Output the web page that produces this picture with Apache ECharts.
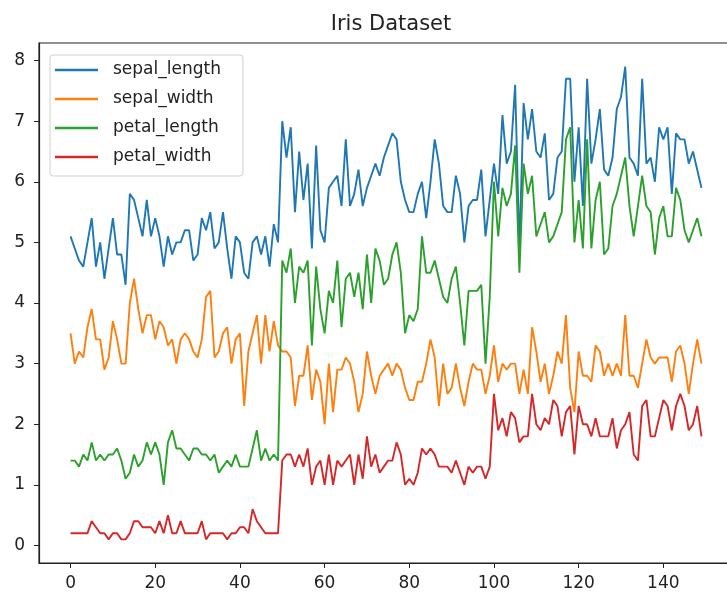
<!DOCTYPE html>
<html>
<head>
<meta charset="utf-8">
<script src="https://cdn.jsdelivr.net/npm/echarts@6/dist/echarts.min.js"></script>
<style>
html,body{margin:0;padding:0;background:#fff;}
#chart{width:727px;height:599px;}
</style>
</head>
<body>
<div id="chart"></div>
<script>
const seriesNames = ['sepal_length', 'sepal_width', 'petal_length', 'petal_width'];
const sepalLength = [5.1,4.9,4.7,4.6,5.0,5.4,4.6,5.0,4.4,4.9,5.4,4.8,4.8,4.3,5.8,5.7,5.4,5.1,5.7,5.1,5.4,5.1,4.6,5.1,4.8,5.0,5.0,5.2,5.2,4.7,4.8,5.4,5.2,5.5,4.9,5.0,5.5,4.9,4.4,5.1,5.0,4.5,4.4,5.0,5.1,4.8,5.1,4.6,5.3,5.0,
7.0,6.4,6.9,5.5,6.5,5.7,6.3,4.9,6.6,5.2,5.0,5.9,6.0,6.1,5.6,6.7,5.6,5.8,6.2,5.6,5.9,6.1,6.3,6.1,6.4,6.6,6.8,6.7,6.0,5.7,5.5,5.5,5.8,6.0,5.4,6.0,6.7,6.3,5.6,5.5,5.5,6.1,5.8,5.0,5.6,5.7,5.7,6.2,5.1,5.7,
6.3,5.8,7.1,6.3,6.5,7.6,4.9,7.3,6.7,7.2,6.5,6.4,6.8,5.7,5.8,6.4,6.5,7.7,7.7,6.0,6.9,5.6,7.7,6.3,6.7,7.2,6.2,6.1,6.4,7.2,7.4,7.9,6.4,6.3,6.1,7.7,6.3,6.4,6.0,6.9,6.7,6.9,5.8,6.8,6.7,6.7,6.3,6.5,6.2,5.9];
const sepalWidth = [3.5,3.0,3.2,3.1,3.6,3.9,3.4,3.4,2.9,3.1,3.7,3.4,3.0,3.0,4.0,4.4,3.9,3.5,3.8,3.8,3.4,3.7,3.6,3.3,3.4,3.0,3.4,3.5,3.4,3.2,3.1,3.4,4.1,4.2,3.1,3.2,3.5,3.6,3.0,3.4,3.5,2.3,3.2,3.5,3.8,3.0,3.8,3.2,3.7,3.3,
3.2,3.2,3.1,2.3,2.8,2.8,3.3,2.4,2.9,2.7,2.0,3.0,2.2,2.9,2.9,3.1,3.0,2.7,2.2,2.5,3.2,2.8,2.5,2.8,2.9,3.0,2.8,3.0,2.9,2.6,2.4,2.4,2.7,2.7,3.0,3.4,3.1,2.3,3.0,2.5,2.6,3.0,2.6,2.3,2.7,3.0,2.9,2.9,2.5,2.8,
3.3,2.7,3.0,2.9,3.0,3.0,2.5,2.9,2.5,3.6,3.2,2.7,3.0,2.5,2.8,3.2,3.0,3.8,2.6,2.2,3.2,2.8,2.8,2.7,3.3,3.2,2.8,3.0,2.8,3.0,2.8,3.8,2.8,2.8,2.6,3.0,3.4,3.1,3.0,3.1,3.1,3.1,2.7,3.2,3.3,3.0,2.5,3.0,3.4,3.0];
const petalLength = [1.4,1.4,1.3,1.5,1.4,1.7,1.4,1.5,1.4,1.5,1.5,1.6,1.4,1.1,1.2,1.5,1.3,1.4,1.7,1.5,1.7,1.5,1.0,1.7,1.9,1.6,1.6,1.5,1.4,1.6,1.6,1.5,1.5,1.4,1.5,1.2,1.3,1.4,1.3,1.5,1.3,1.3,1.3,1.6,1.9,1.4,1.6,1.4,1.5,1.4,
4.7,4.5,4.9,4.0,4.6,4.5,4.7,3.3,4.6,3.9,3.5,4.2,4.0,4.7,3.6,4.4,4.5,4.1,4.5,3.9,4.8,4.0,4.9,4.7,4.3,4.4,4.8,5.0,4.5,3.5,3.8,3.7,3.9,5.1,4.5,4.5,4.7,4.4,4.1,4.0,4.4,4.6,4.0,3.3,4.2,4.2,4.2,4.3,3.0,4.1,
6.0,5.1,5.9,5.6,5.8,6.6,4.5,6.3,5.8,6.1,5.1,5.3,5.5,5.0,5.1,5.3,5.5,6.7,6.9,5.0,5.7,4.9,6.7,4.9,5.7,6.0,4.8,4.9,5.6,5.8,6.1,6.4,5.6,5.1,5.6,6.1,5.6,5.5,4.8,5.4,5.6,5.1,5.1,5.9,5.7,5.2,5.0,5.2,5.4,5.1];
const petalWidth = [0.2,0.2,0.2,0.2,0.2,0.4,0.3,0.2,0.2,0.1,0.2,0.2,0.1,0.1,0.2,0.4,0.4,0.3,0.3,0.3,0.2,0.4,0.2,0.5,0.2,0.2,0.4,0.2,0.2,0.2,0.2,0.4,0.1,0.2,0.2,0.2,0.2,0.1,0.2,0.2,0.3,0.3,0.2,0.6,0.4,0.3,0.2,0.2,0.2,0.2,
1.4,1.5,1.5,1.3,1.5,1.3,1.6,1.0,1.3,1.4,1.0,1.5,1.0,1.4,1.3,1.4,1.5,1.0,1.5,1.1,1.8,1.3,1.5,1.2,1.3,1.4,1.4,1.7,1.5,1.0,1.1,1.0,1.2,1.6,1.5,1.6,1.5,1.3,1.3,1.3,1.2,1.4,1.2,1.0,1.3,1.2,1.3,1.3,1.1,1.3,
2.5,1.9,2.1,1.8,2.2,2.1,1.7,1.8,1.8,2.5,2.0,1.9,2.1,2.0,2.4,2.3,1.8,2.2,2.3,1.5,2.3,2.0,2.0,1.8,2.1,1.8,1.8,1.8,2.1,1.6,1.9,2.0,2.2,1.5,1.4,2.3,2.4,1.8,1.8,2.1,2.4,2.3,1.9,2.3,2.5,2.3,1.9,2.0,2.3,1.8];
const xTickLabels = [0, 20, 40, 60, 80, 100, 120, 140];
const yTickLabels = [0, 1, 2, 3, 4, 5, 6, 7, 8];
const title = 'Iris Dataset';

const allSeries = [sepalLength, sepalWidth, petalLength, petalWidth];
const colors = ['#1f77b4', '#ff7f0e', '#2ca02c', '#d62728'];
const FONT = 'DejaVu Sans';

const chart = echarts.init(document.getElementById('chart'), null, {renderer: 'canvas'});
chart.setOption({
  animation: false,
  backgroundColor: '#ffffff',
  title: {
    text: title, left: 386, top: 9, textAlign: 'center',
    textStyle: {fontFamily: FONT, fontSize: 21, fontWeight: 'normal', color: '#222'}
  },
  grid: {left: 39, width: 694, top: 43, bottom: 36, containLabel: false, outerBoundsMode: 'none',
    show: true, borderColor: '#222', borderWidth: 1.2, backgroundColor: 'transparent'},
  legend: {
    orient: 'vertical', left: 50, top: 55,
    data: seriesNames,
    icon: 'rect', itemWidth: 43, itemHeight: 2.5, itemGap: 9,
    padding: [5, 22, 9, 5],
    borderColor: '#d0d0d0', borderWidth: 1, borderRadius: 3,
    backgroundColor: 'rgba(255,255,255,0.8)',
    textStyle: {fontFamily: FONT, fontSize: 17, color: '#222', lineHeight: 20, padding: [0, 0, 0, 10]}
  },
  xAxis: {
    type: 'value', min: -7.45, max: 156.45,
    splitLine: {show: false},
    axisLine: {show: true, onZero: false, lineStyle: {color: '#222', width: 1.2}},
    axisTick: {show: true, inside: false, length: 5, customValues: xTickLabels, lineStyle: {color: '#222'}},
    axisLabel: {customValues: xTickLabels, margin: 12, fontFamily: FONT, fontSize: 17, color: '#222'}
  },
  yAxis: {
    type: 'value', min: -0.29, max: 8.29,
    splitLine: {show: false},
    axisLine: {show: true, onZero: false, lineStyle: {color: '#222', width: 1.2}},
    axisTick: {show: true, inside: false, length: 5, customValues: yTickLabels, lineStyle: {color: '#222'}},
    axisLabel: {customValues: yTickLabels, margin: 14, fontFamily: FONT, fontSize: 17, color: '#222'}
  },
  series: seriesNames.map((name, k) => ({
    name: name, type: 'line', showSymbol: false, symbol: 'none',
    data: allSeries[k].map((v, i) => [i, v]),
    lineStyle: {color: colors[k], width: 1.9},
    itemStyle: {color: colors[k]},
    z: 2 + k
  }))
});
</script>
</body>
</html>
